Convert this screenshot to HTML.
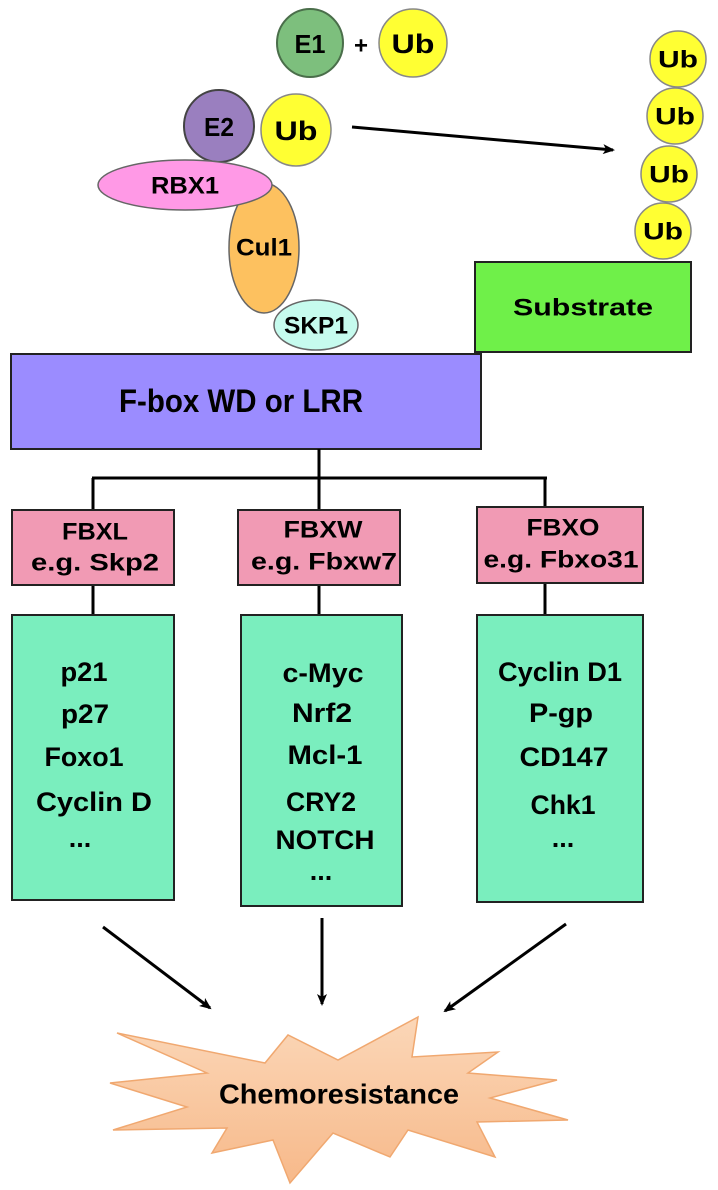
<!DOCTYPE html>
<html><head><meta charset="utf-8"><style>
html,body{margin:0;padding:0;background:#fff}
svg{display:block}
text{font-family:"Liberation Sans","DejaVu Sans",sans-serif;font-weight:bold;fill:#000;text-anchor:middle;dominant-baseline:central}
</style></head><body>
<svg width="718" height="1190" viewBox="0 0 718 1190" xmlns="http://www.w3.org/2000/svg">
<defs>
<marker id="ah" markerWidth="12" markerHeight="10" refX="10" refY="5" orient="auto" markerUnits="userSpaceOnUse">
<path d="M0,0 L12,5 L0,10 L3,5 z" fill="#000"/></marker>
<linearGradient id="sg" x1="0" y1="0" x2="0" y2="1"><stop offset="0" stop-color="#fbd7b8"/><stop offset="1" stop-color="#f7b98a"/></linearGradient>
</defs>
<!-- top -->
<ellipse cx="310" cy="43" rx="33" ry="34" fill="#7dbf7d" stroke="#4a6e4a" stroke-width="2"/>
<text x="310" y="44" font-size="26" textLength="31" lengthAdjust="spacingAndGlyphs">E1</text>
<text x="361" y="46" font-size="24">+</text>
<ellipse cx="413" cy="43" rx="34" ry="34" fill="#ffff33" stroke="#888" stroke-width="1.5"/>
<text x="413" y="44" font-size="27" textLength="43" lengthAdjust="spacingAndGlyphs">Ub</text>
<ellipse cx="219" cy="126" rx="35" ry="36" fill="#9a7fbf" stroke="#444" stroke-width="2"/>
<text x="219" y="127" font-size="26" textLength="30" lengthAdjust="spacingAndGlyphs">E2</text>
<ellipse cx="296" cy="130" rx="35" ry="36" fill="#ffff33" stroke="#888" stroke-width="1.5"/>
<text x="296" y="131" font-size="27" textLength="43" lengthAdjust="spacingAndGlyphs">Ub</text>
<line x1="352" y1="127" x2="613" y2="150" stroke="#000" stroke-width="3" marker-end="url(#ah)"/>
<ellipse cx="264" cy="248" rx="35" ry="65" fill="#fdc15f" stroke="#666" stroke-width="1.5"/>
<ellipse cx="185" cy="185" rx="87" ry="25" fill="#ff99e6" stroke="#666" stroke-width="1.5"/>
<text x="185" y="186" font-size="24" textLength="68" lengthAdjust="spacingAndGlyphs">RBX1</text>
<text x="264" y="248" font-size="24" textLength="56" lengthAdjust="spacingAndGlyphs">Cul1</text>
<ellipse cx="316" cy="325" rx="42" ry="25" fill="#c6fbee" stroke="#666" stroke-width="1.5"/>
<text x="316" y="326" font-size="24" textLength="64" lengthAdjust="spacingAndGlyphs">SKP1</text>
<g fill="#ffff33" stroke="#888" stroke-width="1.5">
<circle cx="678" cy="59" r="28"/><circle cx="675" cy="116" r="28"/><circle cx="669" cy="174" r="28"/><circle cx="663" cy="231" r="28"/></g>
<g font-size="24">
<text x="678" y="60" textLength="40" lengthAdjust="spacingAndGlyphs">Ub</text><text x="675" y="117" textLength="40" lengthAdjust="spacingAndGlyphs">Ub</text>
<text x="669" y="175" textLength="40" lengthAdjust="spacingAndGlyphs">Ub</text><text x="663" y="232" textLength="40" lengthAdjust="spacingAndGlyphs">Ub</text></g>
<rect x="475" y="262" width="216" height="90" fill="#6ff049" stroke="#222" stroke-width="2"/>
<text x="583" y="308" font-size="24" textLength="140" lengthAdjust="spacingAndGlyphs">Substrate</text>
<rect x="11" y="354" width="470" height="95" fill="#9b8cff" stroke="#222" stroke-width="2"/>
<text x="241" y="401" font-size="32" textLength="244" lengthAdjust="spacingAndGlyphs">F-box WD or LRR</text>
<!-- connectors -->
<g stroke="#000" stroke-width="3" fill="none">
<path d="M319,449 V478 M92,478 H547 M93,478 V510 M319,478 V510 M545,478 V507 M93,585 V615 M319,585 V615 M545,583 V615"/>
</g>
<g stroke="#222" stroke-width="2">
<rect x="12" y="510" width="162" height="75" fill="#f19ab4"/>
<rect x="238" y="510" width="162" height="75" fill="#f19ab4"/>
<rect x="477" y="507" width="166" height="76" fill="#f19ab4"/>
<rect x="12" y="615" width="162" height="285" fill="#7aeebe"/>
<rect x="241" y="615" width="161" height="291" fill="#7aeebe"/>
<rect x="477" y="615" width="166" height="287" fill="#7aeebe"/>
</g>
<g font-size="24">
<text x="95" y="532" textLength="66" lengthAdjust="spacingAndGlyphs">FBXL</text><text x="95" y="563" textLength="128" lengthAdjust="spacingAndGlyphs">e.g. Skp2</text>
<text x="323" y="530" textLength="79" lengthAdjust="spacingAndGlyphs">FBXW</text><text x="324" y="562" textLength="146" lengthAdjust="spacingAndGlyphs">e.g. Fbxw7</text>
<text x="563" y="528" textLength="73" lengthAdjust="spacingAndGlyphs">FBXO</text><text x="561" y="560" textLength="155" lengthAdjust="spacingAndGlyphs">e.g. Fbxo31</text>
</g>
<g font-size="27">
<text x="84" y="672" textLength="47" lengthAdjust="spacingAndGlyphs">p21</text>
<text x="85" y="714" textLength="48" lengthAdjust="spacingAndGlyphs">p27</text>
<text x="84" y="757" textLength="79" lengthAdjust="spacingAndGlyphs">Foxo1</text>
<text x="94" y="802" textLength="116" lengthAdjust="spacingAndGlyphs">Cyclin D</text>
<text x="80" y="838">...</text>
<text x="323" y="673" textLength="81" lengthAdjust="spacingAndGlyphs">c-Myc</text>
<text x="322" y="713" textLength="60" lengthAdjust="spacingAndGlyphs">Nrf2</text>
<text x="325" y="755" textLength="75" lengthAdjust="spacingAndGlyphs">Mcl-1</text>
<text x="321" y="802" textLength="70" lengthAdjust="spacingAndGlyphs">CRY2</text>
<text x="325" y="840" textLength="99" lengthAdjust="spacingAndGlyphs">NOTCH</text>
<text x="321" y="871">...</text>
<text x="560" y="672" textLength="124" lengthAdjust="spacingAndGlyphs">Cyclin D1</text>
<text x="561" y="713" textLength="64" lengthAdjust="spacingAndGlyphs">P-gp</text>
<text x="564" y="757" textLength="89" lengthAdjust="spacingAndGlyphs">CD147</text>
<text x="563" y="805" textLength="65" lengthAdjust="spacingAndGlyphs">Chk1</text>
<text x="563" y="838">...</text>
</g>
<!-- arrows to star -->
<g stroke="#000" stroke-width="3">
<line x1="103" y1="927" x2="210" y2="1008" marker-end="url(#ah)"/>
<line x1="322" y1="918" x2="322" y2="1004" marker-end="url(#ah)"/>
<line x1="566" y1="924" x2="445" y2="1011" marker-end="url(#ah)"/>
</g>
<polygon points="117,1033 265,1063 288,1035 338,1060 418,1017 412,1057 498,1052 468,1073 557,1080 490,1098 568,1120 477,1122 495,1157 408,1130 390,1157 333,1133 290,1183 273,1140 212,1153 227,1128 113,1130 187,1107 110,1083 207,1073" fill="url(#sg)" stroke="#f0a870" stroke-width="1.5"/>
<text x="339" y="1094" font-size="28" textLength="240" lengthAdjust="spacingAndGlyphs">Chemoresistance</text>
</svg>
</body></html>
